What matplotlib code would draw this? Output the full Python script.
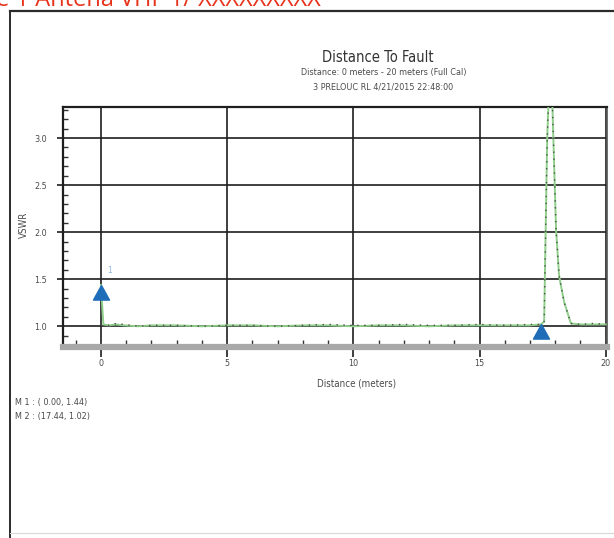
import matplotlib
matplotlib.use("Agg")
import matplotlib.pyplot as plt
from matplotlib.lines import Line2D
from matplotlib.path import Path
from matplotlib.ticker import MultipleLocator, FormatStrFormatter

# ── Data ───────────────────────────────────────────────────────────────────────

dist_m = [0.0, 0.1, 0.3, 0.6, 0.9, 1.5, 2.0, 3.0, 4.0, 5.0, 6.0, 7.0, 8.0,
          9.0, 10.0, 11.0, 12.0, 13.0, 14.0, 15.0, 16.0, 17.0, 17.44, 17.56,
          17.68, 17.76, 17.82, 17.87, 18.03, 18.15, 18.35, 18.62, 19.0,
          19.5, 20.0]

vswr_green = [1.44, 1.02, 1.01, 1.02, 1.01, 1.00, 1.01, 1.01, 1.00, 1.01,
              1.01, 1.00, 1.01, 1.01, 1.00, 1.01, 1.01, 1.00, 1.01, 1.01,
              1.01, 1.01, 1.02, 1.05, 2.98, 3.60, 4.20, 3.50, 2.04, 1.54,
              1.26, 1.03, 1.02, 1.02, 1.02]

vswr_gray = [1.01, 1.01, 1.01, 1.03, 1.02, 1.00, 1.01, 1.01, 1.00, 1.01,
             1.01, 1.00, 1.01, 1.02, 1.01, 1.01, 1.02, 1.01, 1.01, 1.02,
             1.01, 1.02, 1.02, 1.05, 2.98, 3.60, 4.20, 3.50, 2.04, 1.54,
             1.26, 1.03, 1.02, 1.03, 1.02]

marker_x = [0.00, 17.44]
marker_y = [1.44, 1.02]
marker_names = ["M 1", "M 2"]

x_ticks = [0, 5, 10, 15, 20]
y_ticks = [1.0, 1.5, 2.0, 2.5, 3.0]

TXT = "#4a4a4a"
NARROW = dict(family="DejaVu Sans", stretch="condensed")

# ── Figure ─────────────────────────────────────────────────────────────────────

W, H = 614, 538
fig = plt.figure(figsize=(W / 100, H / 100), dpi=100)
fig.patch.set_facecolor("white")

def fx(px):
    return px / W

def fy(py):
    return 1 - py / H

# document frame + clipped red heading
fig.add_artist(Line2D([fx(10), fx(614)], [fy(11), fy(11)], color="#2b2b2b", lw=1.6))
fig.add_artist(Line2D([fx(10), fx(10)], [fy(11), fy(538)], color="#2b2b2b", lw=1.4))
fig.add_artist(Line2D([fx(10), fx(614)], [fy(533), fy(533)], color="#d8d8d8", lw=0.8))
fig.text(fx(-4), fy(6), "e 1 Antena VHF 1/ XXXXXXXXX", color="#e8331c",
         fontsize=17, family=["Open Sans", "DejaVu Sans"], va="baseline", ha="left")

ax = fig.add_axes([fx(63), fy(347), fx(607) - fx(63), fy(107) - fy(347)])

ax.plot(dist_m, vswr_green, color="#8fcf8a", linewidth=1.4, zorder=3)
ax.plot(dist_m, vswr_gray, color="#4d4d4d", linewidth=1.0, linestyle=(0, (1, 4)), zorder=4)

# marker triangles with the tip on the value
tri = Path([(0, 0), (-0.55, -1), (0.55, -1), (0, 0)],
           [Path.MOVETO, Path.LINETO, Path.LINETO, Path.CLOSEPOLY])
ax.plot(marker_x, marker_y, linestyle="none", marker=tri, markersize=21,
        color="#1f6db8", zorder=5, clip_on=False)
ax.text(marker_x[0] + 0.25, marker_y[0] + 0.15, "1", color="#8ab8e0", fontsize=6,
        ha="left", va="center", **NARROW)

ax.set_xlim(-1.5, 20.05)
ax.set_ylim(0.78, 3.33)

ax.set_xticks(x_ticks)
ax.set_yticks(y_ticks)
ax.xaxis.set_minor_locator(MultipleLocator(1))
ax.yaxis.set_minor_locator(MultipleLocator(0.1))
ax.yaxis.set_major_formatter(FormatStrFormatter("%.1f"))

ax.grid(True, which="major", color="#1e1e1e", linewidth=1.2)
ax.set_axisbelow(True)

ax.tick_params(axis="x", which="major", direction="out", length=7, width=1.2,
               color="#1e1e1e", pad=2, labelsize=6.5, labelcolor=TXT)
ax.tick_params(axis="y", which="major", direction="out", length=4.5, width=1.2,
               color="#1e1e1e", pad=7, labelsize=6.5, labelcolor=TXT)
ax.tick_params(axis="x", which="minor", direction="in", length=5, width=1.0, color="#333")
ax.tick_params(axis="y", which="minor", direction="in", length=3.5, width=1.0, color="#333")
for lab in ax.get_xticklabels() + ax.get_yticklabels():
    lab.set_family("DejaVu Sans")
    lab.set_stretch("condensed")

for side in ["top", "left"]:
    ax.spines[side].set_linewidth(1.6)
    ax.spines[side].set_color("#1e1e1e")
ax.spines["right"].set_linewidth(1.2)
ax.spines["right"].set_color("#555555")
ax.spines["bottom"].set_linewidth(4.5)
ax.spines["bottom"].set_color("#a8a8a8")

# titles and labels
fig.text(fx(378), fy(58), "Distance To Fault", ha="center", va="center",
         fontsize=10.5, color="#333", **NARROW)
fig.text(fx(384), fy(73), "Distance: 0 meters - 20 meters (Full Cal)", ha="center",
         va="center", fontsize=6.5, color=TXT, **NARROW)
fig.text(fx(383), fy(87), "3 PRELOUC RL 4/21/2015 22:48:00", ha="center",
         va="center", fontsize=6.5, color=TXT, **NARROW)
fig.text(fx(357), fy(384), "Distance (meters)", ha="center", va="center",
         fontsize=7, color=TXT, **NARROW)
fig.text(fx(24), fy(225), "VSWR", ha="center", va="center", rotation=90,
         fontsize=7, color=TXT, **NARROW)

for i, (name, mx, my) in enumerate(zip(marker_names, marker_x, marker_y)):
    fig.text(fx(15), fy(403 + 13 * i), f"{name} : ({mx:5.2f}, {my:.2f})",
             ha="left", va="center", fontsize=6.5, color=TXT, **NARROW)

plt.savefig("out.png", dpi=100)
plt.close()
